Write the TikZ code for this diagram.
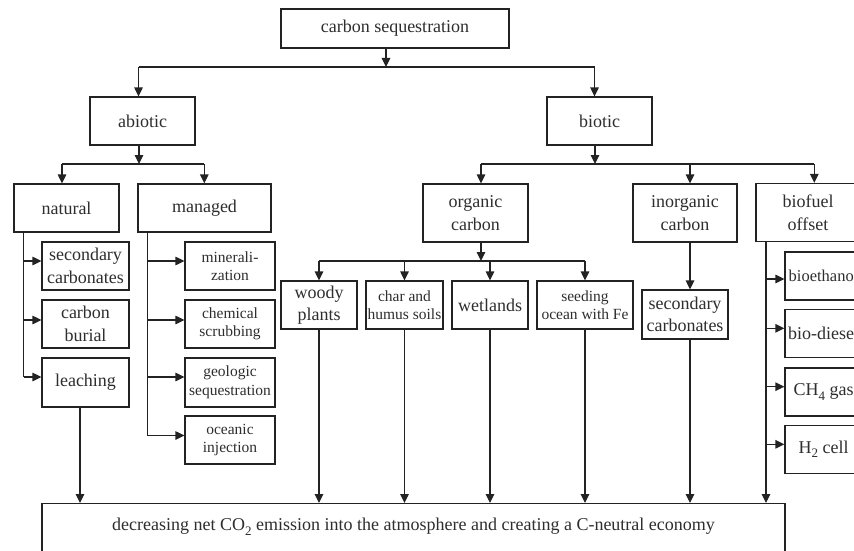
\documentclass[tikz,border=0pt]{standalone}
\usepackage{fontspec}
\setmainfont{Liberation Serif}
\usetikzlibrary{arrows.meta}
\definecolor{ink}{HTML}{232323}
\definecolor{txt}{HTML}{2E2E2E}
\newcommand\fbig{\fontsize{18}{22.5}\selectfont}
\newcommand\fsmall{\fontsize{15.5}{18.5}\selectfont}
\newcommand\lowsub[1]{\raisebox{-4.5pt}{\fontsize{13}{13}\selectfont #1}}
\begin{document}
\begin{tikzpicture}[x=1pt,y=-1pt,
  box/.style={draw=ink, line width=1.2pt, text=txt, align=center, inner sep=0pt, font=\fbig},
  sbox/.style={box, font=\fsmall},
  ln/.style={draw=ink, line width=1.2pt},
  arr/.style={ln, -{Triangle[length=9pt,width=8.5pt]}}]
\useasboundingbox (0,0) rectangle (854,551);
\clip (0,0) rectangle (854,551);
\fill[white] (0,0) rectangle (854,551);

% boxes
\node[box, minimum width=228, minimum height=39] (top) at (395,28.5) {carbon sequestration};
\node[box, minimum width=105, minimum height=48] (abiotic) at (142.5,121) {abiotic};
\node[box, minimum width=105, minimum height=48] (biotic) at (599.5,121) {biotic};
\node[box, minimum width=105, minimum height=48] (natural) at (66.5,208) {natural};
\node[box, minimum width=133, minimum height=48] (managed) at (204.5,208) {managed};
\node[box, minimum width=105, minimum height=58] (organic) at (475.5,213) {organic\\carbon};
\node[box, minimum width=104, minimum height=58] (inorganic) at (685,213) {inorganic\\carbon};
\node[box, minimum width=104, minimum height=58] (biofuel) at (808,212.5) {biofuel\\offset};

\node[box, minimum width=87, minimum height=48] (sc1) at (85.5,266) {secondary\\carbonates};
\node[box, minimum width=87, minimum height=48] (burial) at (85.5,324) {carbon\\burial};
\node[box, minimum width=87, minimum height=49] (leach) at (85.5,382.5) {leaching};

\node[sbox, minimum width=90, minimum height=48] (miner) at (230,266) {minerali-\\zation};
\node[sbox, minimum width=90, minimum height=48] (chem) at (230,324) {chemical\\scrubbing};
\node[sbox, minimum width=90, minimum height=49] (geo) at (230,382.5) {geologic\\sequestration};
\node[sbox, minimum width=90, minimum height=48] (ocean) at (230,440) {oceanic\\injection};

\node[box, minimum width=76, minimum height=48] (woody) at (319,305) {woody\\plants};
\node[sbox, minimum width=77, minimum height=48] (char) at (404.5,305) {char and\\humus soils};
\node[box, minimum width=76, minimum height=48] (wet) at (490,305) {wetlands};
\node[sbox, minimum width=96, minimum height=48] (seed) at (585,305) {seeding\\ocean with Fe};
\node[box, minimum width=86, minimum height=49] (sc2) at (685,314.5) {secondary\\carbonates};

\node[box, font=\fontsize{16.5}{19}\selectfont, minimum width=77, minimum height=48] (eth) at (823.5,276) {bioethanol};
\node[box, minimum width=77, minimum height=48] (dies) at (823.5,333.5) {bio-diesel};
\node[box, minimum width=77, minimum height=48] (ch4) at (823.5,392) {CH\lowsub{4} gas};
\node[box, minimum width=77, minimum height=48] (h2) at (823.5,449.5) {H\lowsub{2} cell};

\node[box, anchor=north, minimum width=743, inner ysep=14pt, text height=13pt, text depth=36pt] (bottom) at (413.5,503)
  {decreasing net CO\lowsub{2} emission into the atmosphere and creating a C-neutral economy};

% junction and branch coordinates
\coordinate (j0) at (386,67);
\coordinate (xa) at (138.5,0);
\coordinate (xb) at (594.5,0);
\coordinate (j1) at (139,164);
\coordinate (xn) at (62,0);
\coordinate (xm) at (204.3,0);
\coordinate (j2) at (595,164);
\coordinate (ox) at (481,0);
\coordinate (o0) at (481,261);
\coordinate (ix) at (690,0);
\coordinate (bfx) at (814.3,0);
\coordinate (lx) at (80,0);
\coordinate (n1) at (23.5,261);
\coordinate (n2) at (23.5,320);
\coordinate (n3) at (23.5,377);
\coordinate (m1) at (147.5,261);
\coordinate (m2) at (147.5,320);
\coordinate (m3) at (147.5,377);
\coordinate (m4) at (147.5,435.5);
\coordinate (b1) at (766,279);
\coordinate (b2) at (766,328.3);
\coordinate (b3) at (766,386.7);
\coordinate (b4) at (766,444.3);

% top level
\draw[arr] (j0 |- top.south) -- (j0);
\draw[ln] (xa |- j0) -- (xb |- j0);
\draw[arr] (xa |- j0) -- (xa |- abiotic.north);
\draw[arr] (xb |- j0) -- (xb |- biotic.north);

% abiotic
\draw[arr] (j1 |- abiotic.south) -- (j1);
\draw[ln] (xn |- j1) -- (xm |- j1);
\draw[arr] (xn |- j1) -- (xn |- natural.north);
\draw[arr] (xm |- j1) -- (xm |- managed.north);

\draw[ln] (n3 |- natural.south) -- (n3);
\draw[arr] (n1) -- (n1 -| sc1.west);
\draw[arr] (n2) -- (n2 -| burial.west);
\draw[arr] (n3) -- (n3 -| leach.west);

\draw[ln] (m4 |- managed.south) -- (m4);
\draw[arr] (m1) -- (m1 -| miner.west);
\draw[arr] (m2) -- (m2 -| chem.west);
\draw[arr] (m3) -- (m3 -| geo.west);
\draw[arr] (m4) -- (m4 -| ocean.west);

\draw[arr] (lx |- leach.south) -- (lx |- bottom.north);

% biotic
\draw[arr] (j2 |- biotic.south) -- (j2);
\draw[ln] (ox |- j2) -- (bfx |- j2);
\draw[arr] (ox |- j2) -- (ox |- organic.north);
\draw[arr] (ix |- j2) -- (ix |- inorganic.north);
\draw[arr] (bfx |- j2) -- (bfx |- biofuel.north);

\draw[arr] (ox |- organic.south) -- (o0);
\draw[ln] (woody.north |- o0) -- (seed.north |- o0);
\draw[arr] (woody.north |- o0) -- (woody.north);
\draw[arr] (char.north |- o0) -- (char.north);
\draw[arr] (wet.north |- o0) -- (wet.north);
\draw[arr] (seed.north |- o0) -- (seed.north);

\draw[arr] (woody.south) -- (woody.south |- bottom.north);
\draw[arr] (char.south) -- (char.south |- bottom.north);
\draw[arr] (wet.south) -- (wet.south |- bottom.north);
\draw[arr] (seed.south) -- (seed.south |- bottom.north);

\draw[arr] (ix |- inorganic.south) -- (ix |- sc2.north);
\draw[arr] (ix |- sc2.south) -- (ix |- bottom.north);

\draw[arr] (b1 |- biofuel.south) -- (b1 |- bottom.north);
\draw[arr] (b1) -- (b1 -| eth.west);
\draw[arr] (b2) -- (b2 -| dies.west);
\draw[arr] (b3) -- (b3 -| ch4.west);
\draw[arr] (b4) -- (b4 -| h2.west);
\end{tikzpicture}
\end{document}
